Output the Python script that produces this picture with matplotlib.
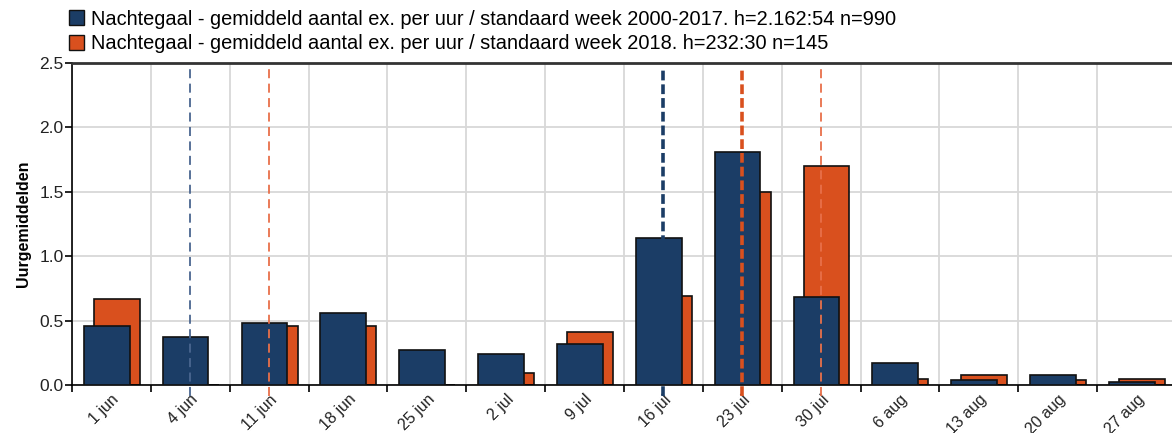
import numpy as np
import matplotlib.pyplot as plt
from matplotlib.patches import Patch

plt.rcParams['font.family'] = ['Liberation Sans', 'DejaVu Sans']

# weken en uurgemiddelden
weken = ['1 jun', '4 jun', '11 jun', '18 jun', '25 jun', '2 jul', '9 jul',
         '16 jul', '23 jul', '30 jul', '6 aug', '13 aug', '20 aug', '27 aug']
gem_2000_2017 = [0.46, 0.37, 0.48, 0.56, 0.27, 0.24, 0.32,
                 1.14, 1.81, 0.68, 0.17, 0.035, 0.08, 0.025]
gem_2018 = [0.67, 0.0, 0.46, 0.46, 0.0, 0.09, 0.41,
            0.69, 1.50, 1.70, 0.05, 0.08, 0.035, 0.05]

# gestippelde lijnen: (week-index, dikte)
lijnen_blauw = [(1, 1.3), (7, 2.6)]
lijnen_oranje = [(2, 1.3), (8, 2.6), (9, 1.3)]

labels = ['Nachtegaal - gemiddeld aantal ex. per uur / standaard week 2000-2017. h=2.162:54 n=990',
          'Nachtegaal - gemiddeld aantal ex. per uur / standaard week 2018. h=232:30 n=145']

blauw = '#1b3d66'
oranje = '#d9501e'

fig = plt.figure(figsize=(11.72, 4.33), dpi=100)
ax = fig.add_axes([72/1172, 1 - 385/433, 1 - 72/1172, (385 - 63)/433])

x = np.arange(len(weken))
ax.bar(x + 0.28, gem_2018, width=0.58, align='edge', color=oranje,
       edgecolor='#111111', linewidth=1.2, zorder=2)
ax.bar(x + 0.15, gem_2000_2017, width=0.58, align='edge', color=blauw,
       edgecolor='#111111', linewidth=1.2, zorder=3)

for i, lw in lijnen_blauw:
    kleur = '#4a6690' if lw < 2 else blauw
    stijl = (0, (5, 3)) if lw < 2 else (0, (2.7, 1.1))
    ax.axvline(i + 0.5, ymin=-0.035, ymax=0.98, color=kleur, linestyle=stijl,
               linewidth=lw, zorder=4, clip_on=False)
for i, lw in lijnen_oranje:
    kleur = '#e8704a' if lw < 2 else oranje
    stijl = (0, (5, 3)) if lw < 2 else (0, (2.7, 1.1))
    ax.axvline(i + 0.5, ymin=-0.035, ymax=0.98, color=kleur, linestyle=stijl,
               linewidth=lw, zorder=4, clip_on=False)

ax.set_xlim(0, 13.95)
ax.set_ylim(0, 2.5)
ax.set_yticks([0, 0.5, 1.0, 1.5, 2.0, 2.5])
ax.set_yticklabels(['0.0', '0.5', '1.0', '1.5', '2.0', '2.5'], fontsize=12.5, color='#222222')
ax.set_xticks(x + 0.5)
ax.set_xticklabels(weken, rotation=45, ha='right', rotation_mode='anchor',
                   fontsize=11.5, color='#222222')
ax.tick_params(axis='x', which='major', length=0, pad=5)
ax.set_xticks(np.arange(0, 14), minor=True)
ax.tick_params(axis='x', which='minor', length=5, width=1.2)
ax.tick_params(axis='y', length=5, width=1.2, pad=1)

ax.grid(True, axis='y', color='#d8d8d8', linewidth=1.3, zorder=0)
ax.grid(True, axis='x', which='minor', color='#d8d8d8', linewidth=1.3, zorder=0)
ax.set_axisbelow(True)

for s in ['left', 'bottom']:
    ax.spines[s].set_linewidth(1.2)
ax.spines['top'].set_linewidth(2)
ax.spines['top'].set_color('#333333')
ax.spines['right'].set_visible(False)

ax.set_ylabel('Uurgemiddelden', fontsize=11.5, fontweight='bold', labelpad=6)

handles = [Patch(facecolor=blauw, edgecolor='#111111'),
           Patch(facecolor=oranje, edgecolor='#111111')]
fig.legend(handles, labels, loc='upper left', bbox_to_anchor=(0.045, 1.015),
           frameon=False, fontsize=14.4, handlelength=0.75, handleheight=0.8,
           handletextpad=0.35, labelspacing=0.28, borderpad=0.3)

fig.savefig('out.png', dpi=100)
